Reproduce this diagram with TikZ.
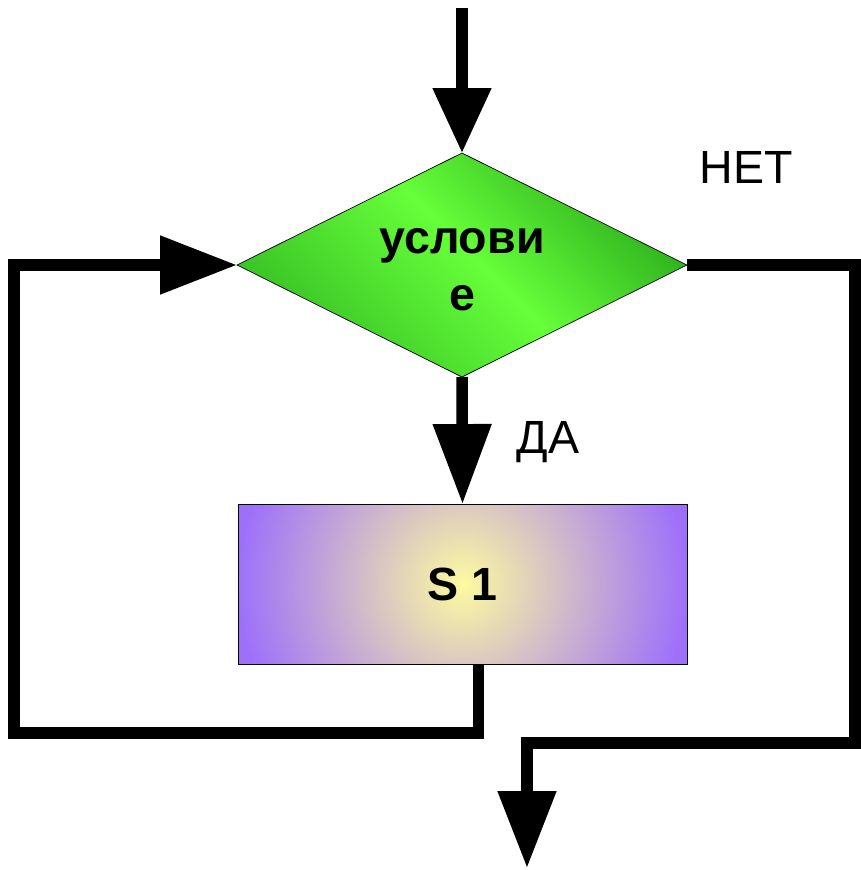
\documentclass[tikz,border=0pt]{standalone}
\usepackage{fontspec}
\setmainfont{Liberation Sans}
\usetikzlibrary{arrows.meta,shapes.geometric}
\definecolor{gdark}{RGB}{38,165,25}
\definecolor{gmid}{RGB}{58,195,38}
\definecolor{glight}{RGB}{102,255,58}
\definecolor{syel}{RGB}{252,250,160}
\definecolor{spur}{RGB}{158,112,250}
\pgfdeclarehorizontalshading{gband}{100bp}{color(0bp)=(gmid); color(26bp)=(gmid); color(52bp)=(glight); color(78bp)=(gdark); color(100bp)=(gdark)}
\begin{document}
\begin{tikzpicture}[x=0.02cm,y=-0.02cm,
	flow/.style={line width=0.23cm,line join=miter},
	bigtip/.style={-{Triangle[length=#1,width=1.12cm]}},
	bigtip/.default=1.54cm,
	cond/.style={diamond,aspect=2,draw,thin,shading=gband,shading angle=45,minimum width=9cm,minimum height=4.48cm,
		inner sep=0pt,outer sep=0pt,align=center,font=\fontsize{26.5}{32}\selectfont\bfseries},
	block/.style={rectangle,draw,thin,minimum width=8.98cm,minimum height=3.2cm,outer sep=0pt,
		font=\fontsize{26.5}{32}\selectfont\bfseries,
		path picture={\shade[inner color=syel,outer color=spur]
			([shift={(-4.49cm,-4.49cm)}]path picture bounding box.center) rectangle +(8.98cm,8.98cm);}},
	lbl/.style={anchor=base,font=\fontsize{26.5}{32}\selectfont}]
	\useasboundingbox (0,0) rectangle (861,870);
	\node[cond,shade] (cond) at (462,265) {\rule{0pt}{19.6pt}услови\\е};
	\node[block] (s1) at (462.5,584) {S 1};
	\coordinate (top) at (462,8);
	\coordinate (back) at (14,733);
	\coordinate (turn) at (855,743);
	\coordinate (out) at (527,868);
	\draw[flow,bigtip=1.3cm] (top) -- (cond.north);
	\draw[flow,bigtip=1.6cm] (cond.south) -- (s1.north);
	\draw[flow,bigtip] ([xshift=0.32cm]s1.south) |- (back) |- (cond.west);
	\draw[flow,bigtip] (cond.east) -| (turn) -| (out);
	\node[lbl] (no) at (746,183) {НЕТ};
	\node[lbl] (yes) at (548,453) {ДА};
\end{tikzpicture}
\end{document}
